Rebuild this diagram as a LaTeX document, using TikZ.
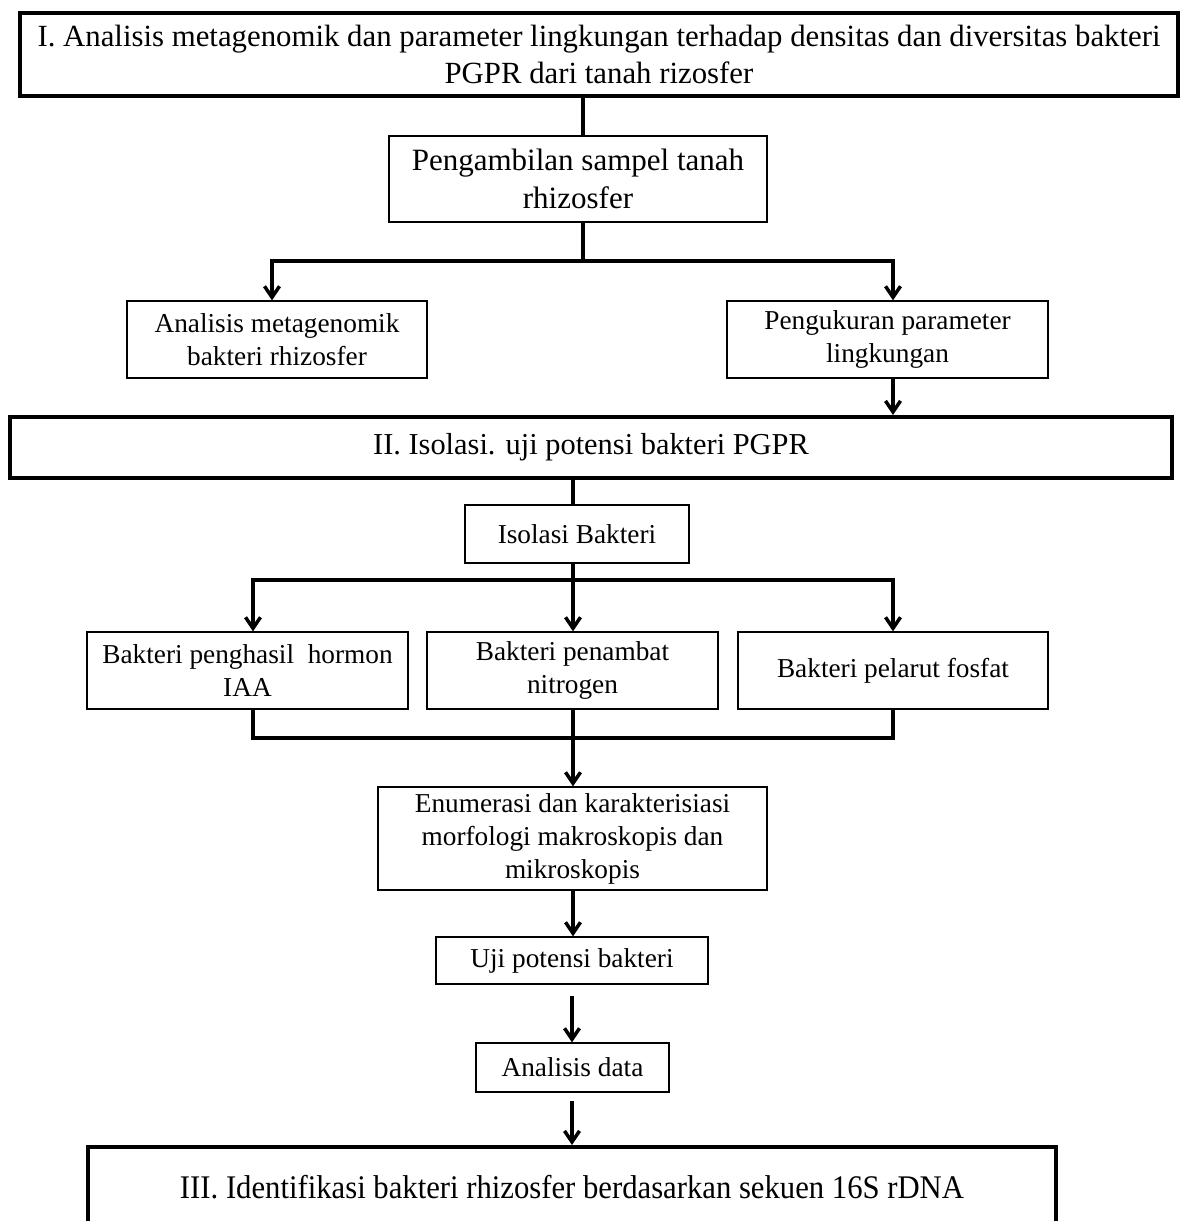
\documentclass[tikz,border=0pt]{standalone}
\usepackage{fontspec}
\usepackage{graphicx}
\setmainfont{Liberation Serif}
\usetikzlibrary{arrows.meta,calc}
\begin{document}
\begin{tikzpicture}[x=1pt,y=-1pt,
  thickbox/.style={draw, line width=4pt, inner sep=0pt, align=center, text=black},
  thinbox/.style={draw, line width=1.3pt, inner sep=0pt, align=center, text=black},
  midtxt/.style={font=\fontsize{27.3}{32.5}\selectfont},
  conn/.style={line width=3.5pt},
  arr/.style={line width=3.5pt, -{Straight Barb[length=11pt,width=15pt,line width=3.5pt]}}
]
\useasboundingbox (0,0) rectangle (1182,1221);
\fill[white] (0,0) rectangle (1182,1221);

% nodes
\node[thickbox,font=\fontsize{30.8}{37}\selectfont, minimum width=1158pt, minimum height=83pt] (t1) at (599,54.5)
  {I. Analisis metagenomik dan parameter lingkungan terhadap densitas dan diversitas bakteri\\PGPR dari tanah rizosfer};
\node[thinbox,font=\fontsize{31}{38}\selectfont, minimum width=378pt, minimum height=86pt] (p1) at (578,179)
  {Pengambilan sampel tanah\\rhizosfer};
\node[thinbox,midtxt, minimum width=300pt, minimum height=77pt] (a1) at (277,339.5)
  {Analisis metagenomik\\bakteri rhizosfer};
\node[thinbox,midtxt, minimum width=321pt, minimum height=77pt] (a2) at (887.5,339.5)
  {Pengukuran parameter\\lingkungan};
\node[thickbox,font=\fontsize{30.4}{34}\selectfont, minimum width=1162pt, minimum height=61pt] (t2) at (591,447.5)
  {II. Isolasi. uji potensi bakteri PGPR};
\node[thinbox,midtxt, minimum width=224pt, minimum height=58pt] (iso) at (577,534)
  {Isolasi Bakteri};
\node[thinbox,midtxt, minimum width=321pt, minimum height=77pt] (b1) at (247.5,670.5)
  {Bakteri penghasil\ \ hormon\\IAA};
\node[thinbox,midtxt, minimum width=291pt, minimum height=77pt] (b2) at (572.5,670.5)
  {Bakteri penambat\\nitrogen};
\node[thinbox,midtxt, minimum width=310pt, minimum height=77pt] (b3) at (893,670.5)
  {Bakteri pelarut fosfat};
\node[thinbox,font=\fontsize{27.3}{33}\selectfont, minimum width=389pt, minimum height=103pt] (en) at (572.5,838.5)
  {Enumerasi dan karakterisiasi\\morfologi makroskopis dan\\mikroskopis};
\node[thinbox,midtxt, minimum width=272pt, minimum height=47pt] (uji) at (572,960.5)
  {Uji potensi bakteri};
\node[thinbox,midtxt, minimum width=193pt, minimum height=49pt] (ad) at (572.5,1067.5)
  {Analisis data};
\node[thickbox,font=\fontsize{33}{38}\selectfont, minimum width=968pt, minimum height=80pt] (t3) at (572,1187)
  {\scalebox{0.93}[1]{III. Identifikasi bakteri rhizosfer berdasarkan sekuen 16S rDNA}};

% connectors
\coordinate (s1) at (583,261);
\draw[conn] (t1.south -| s1) -- (p1.north -| s1);
\draw[conn] (p1.south -| s1) -- (s1);
\draw[arr] (s1) -| (a1.north -| 272,0);
\draw[arr] (s1) -| (a2.north -| 893,0);
\draw[arr] (a2.south -| 893,0) -- (t2.north -| 893,0);

\coordinate (s2) at (573,580);
\draw[conn] (t2.south -| s2) -- (iso.north -| s2);
\draw[conn] (iso.south -| s2) -- (s2);
\draw[arr] (s2) -| (b1.north -| 253,0);
\draw[arr] (s2) -- (b2.north -| s2);
\draw[arr] (s2) -| (b3.north -| 893,0);

\coordinate (s3) at (573,738);
\draw[conn] (b1.south -| 253,0) |- (s3);
\draw[conn] (b3.south -| 893,0) |- (s3);
\draw[conn] (b2.south -| s3) -- (s3);
\draw[arr] (s3) -- (en.north -| s3);
\draw[arr] (en.south -| s3) -- (uji.north -| s3);

\draw[arr, shorten <=11pt] (uji.south) -- (ad.north -| uji.south);
\draw[arr, shorten <=8pt] (ad.south -| uji.south) -- (t3.north -| uji.south);
\end{tikzpicture}
\end{document}
